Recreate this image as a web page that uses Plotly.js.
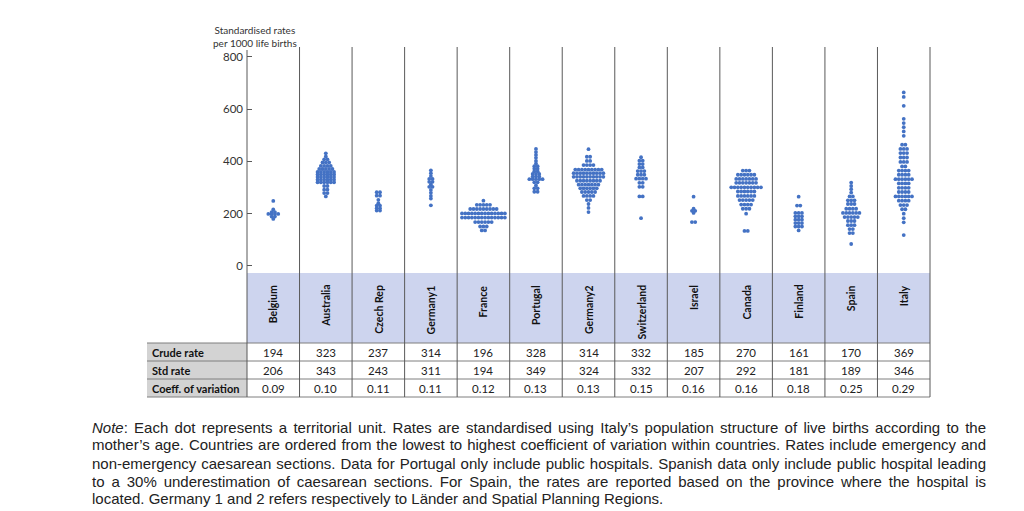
<!DOCTYPE html>
<html><head><meta charset="utf-8">
<script src="https://cdn.plot.ly/plotly-3.0.1.min.js"></script>
<style>html,body{margin:0;padding:0;background:#fff;} #chart{width:1024px;height:511px;}</style>
</head><body><div id="chart"></div>
<script>
// ---------- data ----------
const countries = ["Belgium","Australia","Czech Rep","Germany1","France","Portugal","Germany2","Switzerland","Israel","Canada","Finland","Spain","Italy"];
const crudeRate = [194,323,237,314,196,328,314,332,185,270,161,170,369];
const stdRate   = [206,343,243,311,194,349,324,332,207,292,181,189,346];
const coeffVar  = ["0.09","0.10","0.11","0.11","0.12","0.13","0.13","0.15","0.16","0.16","0.18","0.25","0.29"];
const yTicks = [0,200,400,600,800];
const rowLabels = ["Crude rate","Std rate","Coeff. of variation"];

// dot rows per country: [standardised rate, number of territorial units at that rate]
const belgiumRows = [[249,1],[216,1],[206,2],[199,4],[189,2],[180,1]];
const australiaRows = [[431,1],[419,1],[408,2],[396,3],[383,4],[371,5],[360,6],[350,6],[340,6],[330,6],[320,6],[306,2],[292,2],[279,2],[266,1]];
const czechRows = [[282,2],[269,2],[253,1],[240,1],[231,2],[221,2],[212,2]];
const germany1Rows = [[366,1],[355,1],[344,1],[333,2],[322,2],[312,1],[303,2],[291,1],[280,1],[268,1],[258,1],[232,1]];
const franceRows = [[250,1],[234,5],[218,9],[201,14],[185,14],[168,6],[151,3],[136,2]];
const portugalRows = [[448,1],[436,1],[425,1],[414,1],[402,1],[392,1],[382,2],[372,2],[362,2],[352,3],[342,3],[332,5],[320,2],[308,1],[297,2],[284,2]];
const germany2Rows = [[447,1],[418,2],[402,2],[386,4],[369,9],[355,10],[341,10],[326,8],[311,7],[297,6],[283,5],[268,4],[252,2],[237,1],[222,1],[206,1]];
const switzerlandRows = [[416,1],[403,2],[390,2],[377,2],[363,3],[349,3],[334,4],[318,2],[303,2],[266,2],[183,1]];
const israelRows = [[265,1],[219,1],[211,2],[203,1],[168,2]];
const canadaRows = [[365,3],[349,6],[333,7],[318,7],[301,10],[285,6],[268,6],[252,5],[235,4],[219,3],[200,1],[134,2]];
const finlandRows = [[265,1],[231,2],[203,3],[190,3],[177,3],[164,3],[151,3],[136,1]];
const spainRows = [[319,1],[306,1],[294,1],[281,1],[266,2],[251,3],[237,3],[219,4],[203,6],[187,5],[172,3],[156,3],[141,2],[126,2],[84,1]];
const italyRows = [[664,1],[647,1],[613,1],[563,1],[547,1],[531,1],[515,1],[498,1],[464,2],[448,3],[432,3],[415,3],[398,3],[381,2],[365,4],[349,4],[332,6],[316,4],[299,4],[283,4],[266,6],[250,4],[233,3],[217,2],[200,1],[183,1],[167,1],[118,1]];

const noteLines = [
  "<i>Note</i>: Each dot represents a territorial unit. Rates are standardised using Italy’s population structure of live births according to the",
  "mother’s age. Countries are ordered from the lowest to highest coefficient of variation within countries. Rates include emergency and",
  "non-emergency caesarean sections. Data for Portugal only include public hospitals. Spanish data only include public hospital leading",
  "to a 30% underestimation of caesarean sections. For Spain, the rates are reported based on the province where the hospital is",
  "located. Germany 1 and 2 refers respectively to Länder and Spatial Planning Regions."
];

// ---------- layout helpers (pixel geometry) ----------
const allRows = [belgiumRows,australiaRows,czechRows,germany1Rows,franceRows,portugalRows,germany2Rows,switzerlandRows,israelRows,canadaRows,finlandRows,spainRows,italyRows];
const L = 247, R = 930, T = 47, B = 273;         // plot area in pixels
const W = R - L, H = B - T;
const px = x => (x - L) / W;                      // pixel -> paper x
const py = y => (B - y) / H;                      // pixel -> paper y
const n = countries.length;
const colW = W / n;
const dotStep = 3.3 / colW;                       // horizontal dot spacing in x units

const xs = [], ys = [];
allRows.forEach((rows, i) => {
  rows.forEach(([v, cnt]) => {
    for (let j = 0; j < cnt; j++) {
      xs.push(i + 0.5 + (j - (cnt - 1) / 2) * dotStep);
      ys.push(v);
    }
  });
});

const trace = {
  type: 'scatter', mode: 'markers', x: xs, y: ys,
  marker: {size: 3.8, color: '#4472C4', line: {width: 0}},
  hoverinfo: 'skip', showlegend: false, cliponaxis: false
};

const shapes = [];
const annotations = [];
const labelFont = "Lato, 'Open Sans', sans-serif";

// lavender header band
shapes.push({type:'rect', xref:'paper', yref:'paper', x0:0, x1:1, y0:py(273), y1:py(343), fillcolor:'#cdd4ee', line:{width:0}, layer:'below'});
// gray row-label cells
shapes.push({type:'rect', xref:'paper', yref:'paper', x0:px(147), x1:0, y0:py(343), y1:py(397), fillcolor:'#d3d3d3', line:{width:0}, layer:'below'});
// horizontal table lines
[343,361,379,397].forEach(y => shapes.push({type:'line', xref:'paper', yref:'paper', x0:px(147), x1:1, y0:py(y), y1:py(y), line:{color:'#7f7f7f', width:1}}));
// column separators
for (let k = 0; k <= n; k++) {
  shapes.push({type:'line', xref:'paper', yref:'paper', x0:k/n, x1:k/n, y0:py(k === 0 ? 50 : T), y1:py(397), line:{color:'#595959', width:1}});
}

// country labels
countries.forEach((c, i) => {
  annotations.push({xref:'paper', yref:'paper', x:(i+0.5)/n, y:py(283), text:'<b>'+c+'</b>', textangle:-90,
    xanchor:'center', yanchor:'top', showarrow:false, font:{family:labelFont, size:10.5, color:'#111'}});
});
// table values
const tableRows = [crudeRate, stdRate, coeffVar];
const rowCenters = [352, 370, 388];
tableRows.forEach((vals, r) => {
  annotations.push({xref:'paper', yref:'paper', x:px(150), y:py(rowCenters[r]), text:'<b>'+rowLabels[r]+'</b>',
    xanchor:'left', yanchor:'middle', showarrow:false, font:{family:labelFont, size:11, color:'#111'}});
  vals.forEach((v, i) => {
    annotations.push({xref:'paper', yref:'paper', x:(i+0.5)/n, y:py(rowCenters[r]), text:String(v),
      xanchor:'center', yanchor:'middle', showarrow:false, font:{family:labelFont, size:11.5, color:'#222'}});
  });
});
// y-axis caption
annotations.push({xref:'paper', yref:'paper', x:px(255), y:py(36), text:'Standardised rates<br>per 1000 life births',
  xanchor:'center', yanchor:'middle', showarrow:false, font:{family:labelFont, size:10, color:'#333'}});
// note
const noteCenters = [427, 445, 463, 481, 498];
const noteStart = annotations.length;
noteLines.forEach((t, k) => {
  annotations.push({xref:'paper', yref:'paper', x:px(90), y:py(noteCenters[k]), text:t, align:'left',
    xanchor:'left', yanchor:'middle', showarrow:false, font:{family:"'Liberation Sans', Arial, sans-serif", size:15, color:'#222'}});
});

const layout = {
  width:1024, height:511,
  margin:{l:L, r:1024-R, t:T, b:511-B, pad:0},
  paper_bgcolor:'#fff', plot_bgcolor:'rgba(0,0,0,0)',
  xaxis:{range:[0,n], showgrid:false, zeroline:false, showline:false, showticklabels:false, ticks:'', fixedrange:true},
  yaxis:{range:[-27,838], tickvals:yTicks, ticks:'inside', ticklen:5, tickcolor:'#595959', ticklabelstandoff:3,
    showline:false, showgrid:false, zeroline:false,
    tickfont:{family:labelFont, size:11.5, color:'#333'}, fixedrange:true},
  shapes, annotations, showlegend:false
};

Plotly.newPlot('chart', [trace], layout, {staticPlot:true, displayModeBar:false}).then(gd => {
  // justify the first four note lines to the right margin (x = 985 px)
  try {
    for (let k = 0; k < 4; k++) {
      const g = gd.querySelector('.annotation[data-index="'+(noteStart+k)+'"] text.annotation-text');
      if (!g) continue;
      const w = g.getComputedTextLength();
      const spaces = (g.textContent.match(/ /g) || []).length;
      const target = 985 - 91;
      if (spaces > 0) g.style.wordSpacing = ((target - w) / spaces) + 'px';
    }
  } catch (e) {}
});
</script>
</body></html>
